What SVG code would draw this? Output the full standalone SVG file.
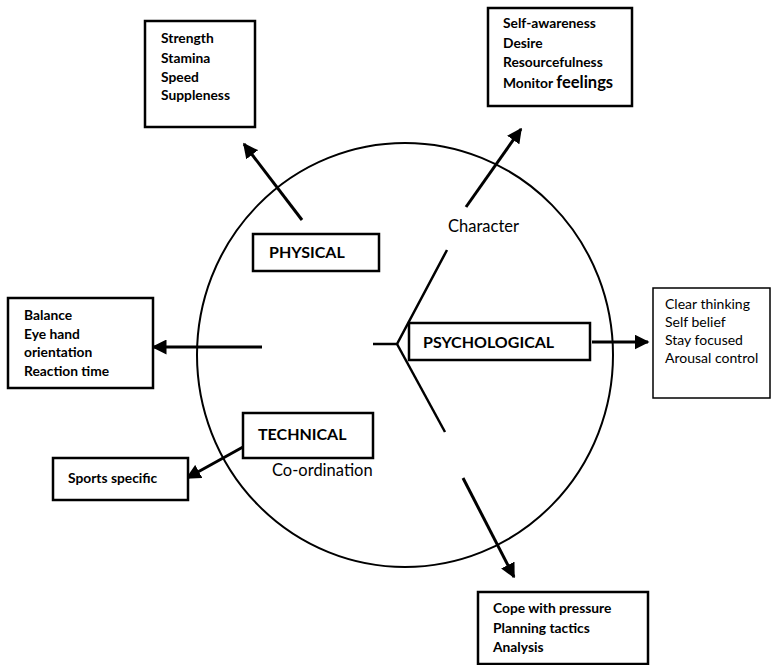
<svg xmlns="http://www.w3.org/2000/svg" width="776" height="665" viewBox="0 0 776 665">
<defs>
<marker id="ah" viewBox="0 0 10 10" refX="9" refY="5" markerWidth="5" markerHeight="5" orient="auto" markerUnits="strokeWidth">
<path d="M0,0 L10,5 L0,10 z" fill="#000"/>
</marker>
</defs>
<style>
.box{fill:#fff;stroke:#000;stroke-width:2.5}
.ln{fill:none;stroke:#000;stroke-width:2.5}
.arr{fill:none;stroke:#000;stroke-width:3;marker-end:url(#ah)}
.t{font-family:Lato,"Liberation Sans",sans-serif;font-size:13.8px;font-weight:bold;fill:#000}
.n{font-family:Lato,"Liberation Sans",sans-serif;font-size:14px;fill:#000}
.h{font-family:Lato,"Liberation Sans",sans-serif;font-size:16px;font-weight:bold;fill:#000}
.l{font-family:Lato,"Liberation Sans",sans-serif;font-size:16.5px;fill:#000}
</style>
<rect width="776" height="665" fill="#fff"/>
<ellipse cx="405" cy="355" rx="208" ry="212" fill="none" stroke="#000" stroke-width="2"/>
<g id="connectors">
<line class="arr" x1="302" y1="220" x2="244" y2="144"/>
<line class="arr" x1="466" y1="207" x2="521" y2="129"/>
<line class="arr" x1="262" y1="347" x2="153" y2="347"/>
<line class="arr" x1="592" y1="342" x2="648" y2="342"/>
<line class="arr" x1="243" y1="447" x2="187" y2="478"/>
<line class="arr" x1="463" y1="478" x2="514" y2="577"/>
<polyline class="ln" points="373,344 397,344 447,250"/>
<line class="ln" x1="397" y1="344" x2="445" y2="432"/>
</g>
<g id="physical-attrs">
<rect class="box" x="145" y="21" width="110" height="106"/>
<text class="t" x="161" y="43">Strength</text>
<text class="t" x="161" y="63">Stamina</text>
<text class="t" x="161" y="82">Speed</text>
<text class="t" x="161" y="100">Suppleness</text>
</g>
<g id="psych-attrs">
<rect class="box" x="488" y="8" width="144" height="98"/>
<text class="t" x="503" y="28">Self-awareness</text>
<text class="t" x="503" y="48">Desire</text>
<text class="t" x="503" y="67">Resourcefulness</text>
<text class="t" x="503" y="88">Monitor <tspan style="font-size:16.5px">feelings</tspan></text>
</g>
<g id="physical">
<rect class="box" x="253" y="234" width="126" height="37"/>
<text class="h" x="269" y="258">PHYSICAL</text>
</g>
<g id="character">
<text class="l" x="448" y="232">Character</text>
</g>
<g id="balance">
<rect class="box" x="8" y="298" width="145" height="90"/>
<text class="t" x="24" y="320">Balance</text>
<text class="t" x="24" y="339">Eye hand</text>
<text class="t" x="24" y="357">orientation</text>
<text class="t" x="24" y="376">Reaction time</text>
</g>
<g id="psychological">
<rect class="box" x="409" y="323" width="181" height="37"/>
<text class="h" x="423" y="348">PSYCHOLOGICAL</text>
</g>
<g id="clear-thinking">
<rect class="box" x="653" y="288" width="117" height="110" style="stroke-width:1.5"/>
<text class="n" x="665" y="309">Clear thinking</text>
<text class="n" x="665" y="327">Self belief</text>
<text class="n" x="665" y="345">Stay focused</text>
<text class="n" x="665" y="363">Arousal control</text>
</g>
<g id="technical">
<rect class="box" x="243" y="413" width="130" height="45"/>
<text class="h" x="258" y="440">TECHNICAL</text>
<text class="l" x="272" y="476">Co-ordination</text>
</g>
<g id="sports-specific">
<rect class="box" x="53" y="458" width="135" height="42"/>
<text class="t" x="68" y="483">Sports specific</text>
</g>
<g id="cope">
<rect class="box" x="478" y="592" width="170" height="72"/>
<text class="t" x="493" y="613">Cope with pressure</text>
<text class="t" x="493" y="633">Planning tactics</text>
<text class="t" x="493" y="652">Analysis</text>
</g>
</svg>
